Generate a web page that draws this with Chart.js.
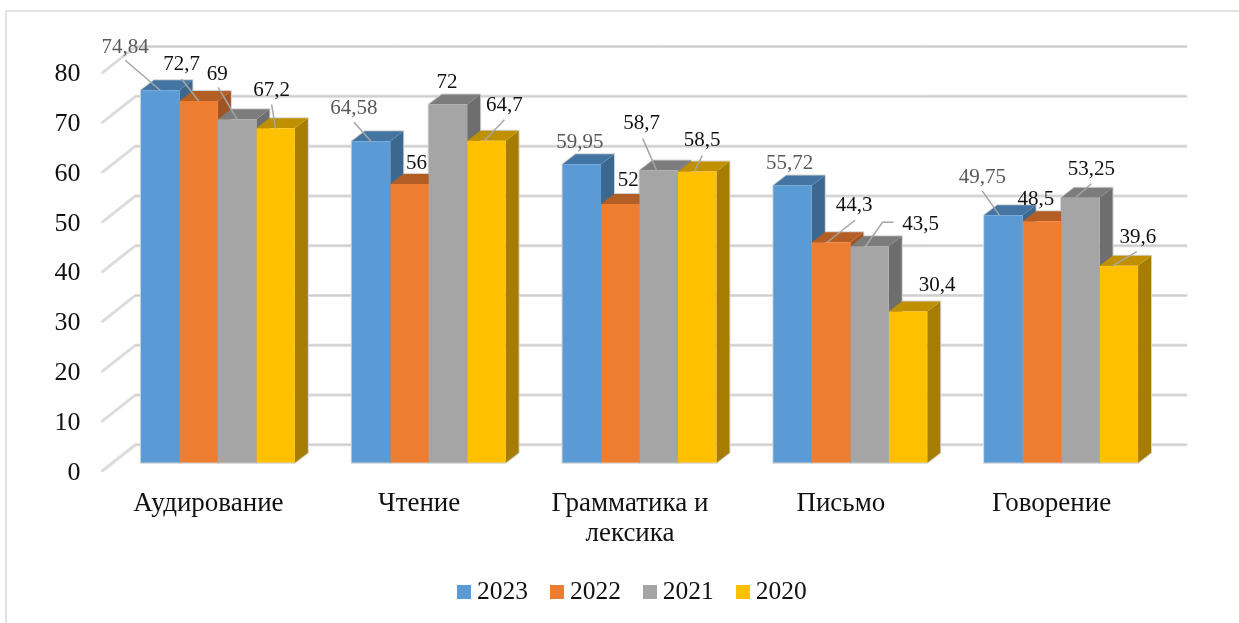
<!DOCTYPE html>
<html lang="ru">
<head>
<meta charset="utf-8">
<title>Chart</title>
<script src="https://cdn.jsdelivr.net/npm/chart.js@4"></script>
<style>
    html, body { margin: 0; padding: 0; background: #fff; overflow: hidden; }
    #frame { position: absolute; left: 5px; top: 10px; width: 1240px; height: 620px;
             border-left: 2px solid #e2e2e2; border-top: 2px solid #e2e2e2; }
    #barChart { position: absolute; left: 0; top: 0; }
</style>
</head>
<body>
<div id="frame"></div>
<canvas id="barChart" width="1239" height="623"></canvas>
<script>
const categories = ["Аудирование", "Чтение", ["Грамматика и", "лексика"], "Письмо", "Говорение"];
const values2023 = [74.84, 64.58, 59.95, 55.72, 49.75];
const values2022 = [72.7, 56, 52, 44.3, 48.5];
const values2021 = [69, 72, 58.7, 43.5, 53.25];
const values2020 = [67.2, 64.7, 58.5, 30.4, 39.6];
const yTicks = [0, 10, 20, 30, 40, 50, 60, 70, 80];

const FONT = "'Liberation Serif', 'Times New Roman', serif";

// front, top, side shades per series
const shades = [
    { front: "#5B9BD5", top: "#4474A1", side: "#3C6890" },
    { front: "#ED7D31", top: "#B25E25", side: "#A05421" },
    { front: "#A5A5A5", top: "#7C7C7C", side: "#6E6E6E" },
    { front: "#FFC000", top: "#BF9000", side: "#A67D00" },
];

// value label offsets from the top centre of each bar [series][category]
const labelOffsets = [
    [[-35, -43], [-17, -33], [-2, -22], [-3, -22], [-21, -38]],
    [[-17, -36], [7, -21], [8, -23], [23, -37], [-6, -22]],
    [[-20, -45], [-1, -22], [-17, -47], [51, -22], [11, -28]],
    [[-4, -38], [18, -35], [5, -31], [29, -26], [19, -28]],
];
// leader polylines, same frame. null means no leader
const leaders = [
    [[[-35, -30], [0, 0]], [[-17, -19], [0, 0]], null, null, [[-21, -24], [-4, 0]]],
    [[[-17, -22], [0, 0]], null, null, [[24, -22], [-4, 0]], null],
    [[[-19, -32], [0, 0]], null, [[-16, -32], [-2, 0]], [[24, -24], [13, -24], [-4, 0]], [[11, -14], [-5, 0]]],
    [[[-4, -24], [0, 0]], [[18, -21], [-2, 0]], [[5, -16], [-3, 0]], null, [[18, -14], [-6, 0]]],
];

const WALL_DX = 23, WALL_DY = 18;      // front of bars to back wall
const FLOOR_DX = 10, FLOOR_DY = 8;     // front of bars to front edge of floor
const BAR_DX = 13, BAR_DY = 10;        // bar depth
const GRID_END = 1186;

const wallPlugin = {
    id: "wall",
    beforeDatasetsDraw(chart) {
        const { ctx, chartArea } = chart;
        const y = chart.scales.y;
        const backX = chartArea.left + WALL_DX;
        ctx.save();
        ctx.lineCap = "round";
        ctx.lineJoin = "round";
        yTicks.forEach(t => {
            const py = y.getPixelForValue(t);
            ctx.beginPath();
            ctx.moveTo(chartArea.left - FLOOR_DX, py + FLOOR_DY);
            ctx.lineTo(backX, py - WALL_DY);
            ctx.lineTo(GRID_END, py - WALL_DY);
            ctx.lineWidth = 3;
            ctx.strokeStyle = "#dcdcdc";
            ctx.stroke();
            // darker core along the wall line
            ctx.beginPath();
            ctx.moveTo(backX, py - WALL_DY);
            ctx.lineTo(GRID_END, py - WALL_DY);
            ctx.lineWidth = 1;
            ctx.strokeStyle = "#cdcdcd";
            ctx.stroke();
        });
        ctx.restore();
        drawDepth(chart);
    }
};

function drawDepth(chart) {
    const { ctx } = chart;
    const y0 = chart.scales.y.getPixelForValue(0);
    const shapes = [];
    chart.data.datasets.forEach((ds, i) => {
        chart.getDatasetMeta(i).data.forEach(bar => {
            const l = bar.x - bar.width / 2, r = bar.x + bar.width / 2, t = bar.y;
            shapes.push({ i, l, r, t });
        });
    });

    // light edge round each block, under all the fills
    ctx.save();
    ctx.strokeStyle = "#d4d4d4";
    ctx.lineWidth = 2;
    shapes.forEach(({ l, r, t }) => {
        ctx.beginPath();
        ctx.moveTo(l, y0);
        ctx.lineTo(l, t);
        ctx.lineTo(l + BAR_DX, t - BAR_DY);
        ctx.lineTo(r + BAR_DX, t - BAR_DY);
        ctx.lineTo(r + BAR_DX, y0 - BAR_DY);
        ctx.lineTo(r, y0);
        ctx.closePath();
        ctx.stroke();
    });

    shapes.forEach(({ i, l, r, t }) => {
        ctx.fillStyle = shades[i].side;
        ctx.beginPath();
        ctx.moveTo(r, t);
        ctx.lineTo(r + BAR_DX, t - BAR_DY);
        ctx.lineTo(r + BAR_DX, y0 - BAR_DY);
        ctx.lineTo(r, y0);
        ctx.closePath();
        ctx.fill();

        ctx.fillStyle = shades[i].top;
        ctx.beginPath();
        ctx.moveTo(l, t);
        ctx.lineTo(l + BAR_DX, t - BAR_DY);
        ctx.lineTo(r + BAR_DX, t - BAR_DY);
        ctx.lineTo(r, t);
        ctx.closePath();
        ctx.fill();
    });
    ctx.restore();
}

const labelPlugin = {
    id: "valueLabels",
    afterDatasetsDraw(chart) {
        const { ctx } = chart;
        ctx.save();
        ctx.font = "21px " + FONT;
        ctx.textAlign = "center";
        ctx.textBaseline = "middle";
        chart.data.datasets.forEach((ds, i) => {
            chart.getDatasetMeta(i).data.forEach((bar, j) => {
                const leader = leaders[i][j];
                if (leader) {
                    ctx.beginPath();
                    leader.forEach(([dx, dy], k) => {
                        if (k === 0) ctx.moveTo(bar.x + dx, bar.y + dy);
                        else ctx.lineTo(bar.x + dx, bar.y + dy);
                    });
                    ctx.strokeStyle = "#a6a6a6";
                    ctx.lineWidth = 1.5;
                    ctx.stroke();
                }
                const [ox, oy] = labelOffsets[i][j];
                ctx.fillStyle = i === 0 ? "#595959" : "#111";
                ctx.fillText(String(ds.data[j]).replace(".", ","), bar.x + ox, bar.y + oy);
            });
        });
        ctx.restore();
    }
};

// legend swatch, drawn as an image so the text can sit closer than Chart.js puts it
function swatch(color) {
    const c = document.createElement("canvas");
    c.width = 14;
    c.height = 14;
    const g = c.getContext("2d");
    g.fillStyle = color;
    g.fillRect(0, 0, 14, 14);
    return c;
}

function makeSeries(label, data, i) {
    return { label, data, backgroundColor: shades[i].front, barPercentage: 1, categoryPercentage: 0.73 };
}

new Chart(document.getElementById("barChart"), {
    type: "bar",
    data: {
        labels: categories,
        datasets: [
            makeSeries("2023", values2023, 0),
            makeSeries("2022", values2022, 1),
            makeSeries("2021", values2021, 2),
            makeSeries("2020", values2020, 3),
        ],
    },
    plugins: [wallPlugin, labelPlugin],
    options: {
        responsive: false,
        animation: false,
        layout: { padding: { left: 31, right: 0, top: 64.6, bottom: 8 } },
        plugins: {
            tooltip: { enabled: false },
            legend: {
                position: "bottom",
                labels: {
                    usePointStyle: true,
                    boxWidth: 1,
                    boxHeight: 14,
                    padding: 28.2,
                    color: "#111",
                    font: { family: FONT, size: 25.5 },
                    generateLabels: chart => chart.data.datasets.map((ds, i) => ({
                        text: ds.label,
                        pointStyle: swatch(ds.backgroundColor),
                        fontColor: "#111",
                        lineWidth: 0,
                        datasetIndex: i,
                    })),
                },
            },
        },
        scales: {
            x: {
                grid: { display: false, drawTicks: false },
                border: { display: false },
                afterFit: s => { s.height = 88.6; },
                ticks: {
                    color: "#111",
                    padding: 26,
                    labelOffset: -9.5,
                    maxRotation: 0,
                    autoSkip: false,
                    font: { family: FONT, size: 27, lineHeight: 1.11 },
                },
            },
            y: {
                min: 0,
                max: 80,
                grid: { display: false, drawTicks: false },
                border: { display: false },
                afterFit: s => { s.width = 81.5; },
                afterBuildTicks: s => { s.ticks = yTicks.map(value => ({ value })); },
                ticks: {
                    color: "#111",
                    padding: 32,
                    labelOffset: 10,
                    font: { family: FONT, size: 26 },
                },
            },
            // empty axis, only keeps the plot clear of the right margin
            spacer: {
                type: "linear",
                position: "right",
                grid: { display: false, drawTicks: false },
                border: { display: false },
                ticks: { display: false },
                afterFit: s => { s.width = 72.5; },
            },
        },
    },
});
</script>
</body>
</html>
